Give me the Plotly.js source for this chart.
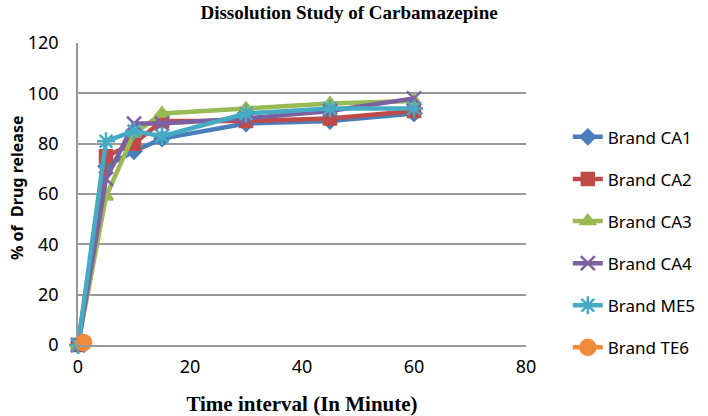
<!DOCTYPE html>
<html>
<head>
<meta charset="utf-8">
<script src="https://cdn.plot.ly/plotly-3.0.1.min.js"></script>
<style>html,body{margin:0;padding:0;background:#fff;}#chart{width:708px;height:416px;}</style>
</head>
<body>
<div id="chart"></div>
<script>
const time = [0, 5, 10, 15, 30, 45, 60];
const brandCA1 = [0, 71, 77, 82, 88, 89, 92];
const brandCA2 = [0, 75, 80, 89, 89, 90, 93];
const brandCA3 = [0, 59, 84, 92, 94, 96, 97];
const brandCA4 = [0, 66, 88, 88, 90, 93, 98];
const brandME5 = [0, 81, 85, 83, 92, 94, 94];
const timeTE6 = [1];
const brandTE6 = [1];
const seriesNames = ["Brand CA1", "Brand CA2", "Brand CA3", "Brand CA4", "Brand ME5", "Brand TE6"];

const colors = ["#4A7EBB", "#BE4B48", "#98B954", "#7D60A0", "#46AAC5", "#F08A3C"];
const symbols = ["diamond", "square", "triangle-up", "x-thin-open", "asterisk-open", "circle"];
const sizes = [11, 12, 12, 14, 15, 15];
const xs = [time, time, time, time, time, timeTE6];
const ys = [brandCA1, brandCA2, brandCA3, brandCA4, brandME5, brandTE6];

const traces = seriesNames.map((n, i) => ({
  type: "scatter",
  mode: "lines+markers",
  name: n,
  legendgroup: "g" + i,
  x: xs[i],
  y: ys[i],
  cliponaxis: false,
  line: {color: colors[i], width: 4.5},
  marker: {symbol: symbols[i], size: sizes[i], color: colors[i], line: {color: colors[i], width: 2.5}}
}));

const layout = {
  width: 708, height: 416,
  margin: {l: 78, r: 182, t: 43, b: 71},
  paper_bgcolor: "#fff", plot_bgcolor: "#fff",
  showlegend: true,
  title: {text: "Dissolution Study of Carbamazepine", x: 0.493, xanchor: "center", y: 0.97, yanchor: "middle",
          font: {family: "Liberation Serif, Times New Roman, serif", size: 19, color: "#000", weight: "bold"}},
  xaxis: {range: [0, 80], dtick: 20, tick0: 0, showgrid: false, zeroline: false, showline: true,
          linecolor: "#999", linewidth: 1.5, ticks: "", ticklen: 0, ticklabelstandoff: 5,
          tickfont: {family: "Noto Sans, Open Sans, sans-serif", size: 18, color: "#000"},
          title: {text: "Time interval (In Minute)", standoff: 19,
                  font: {family: "Liberation Serif, Times New Roman, serif", size: 21, color: "#000", weight: "bold"}}},
  yaxis: {range: [0, 120], dtick: 20, tick0: 0, showgrid: true, gridcolor: "#999", gridwidth: 1.5,
          zeroline: false, showline: true, linecolor: "#999", linewidth: 1.5, ticks: "", ticklabelstandoff: 14,
          tickfont: {family: "Noto Sans, Open Sans, sans-serif", size: 18, color: "#000"}},
  annotations: [{text: "<b>% of  Drug release</b>", textangle: -90, xref: "paper", yref: "paper",
                 x: -(78 - 17) / 448, y: (345 - 188) / 302, xanchor: "center", yanchor: "middle", showarrow: false,
                 font: {family: "Noto Sans, Open Sans, sans-serif", size: 16, color: "#000"}}],
  legend: {xref: "container", x: 0.802, xanchor: "left", y: 0.34, yanchor: "middle", tracegroupgap: 17,
           font: {family: "Noto Sans, Open Sans, sans-serif", size: 17, color: "#000"},
           bgcolor: "rgba(0,0,0,0)"}
};

Plotly.newPlot("chart", traces, layout, {displayModeBar: false, responsive: false});
</script>
</body>
</html>
